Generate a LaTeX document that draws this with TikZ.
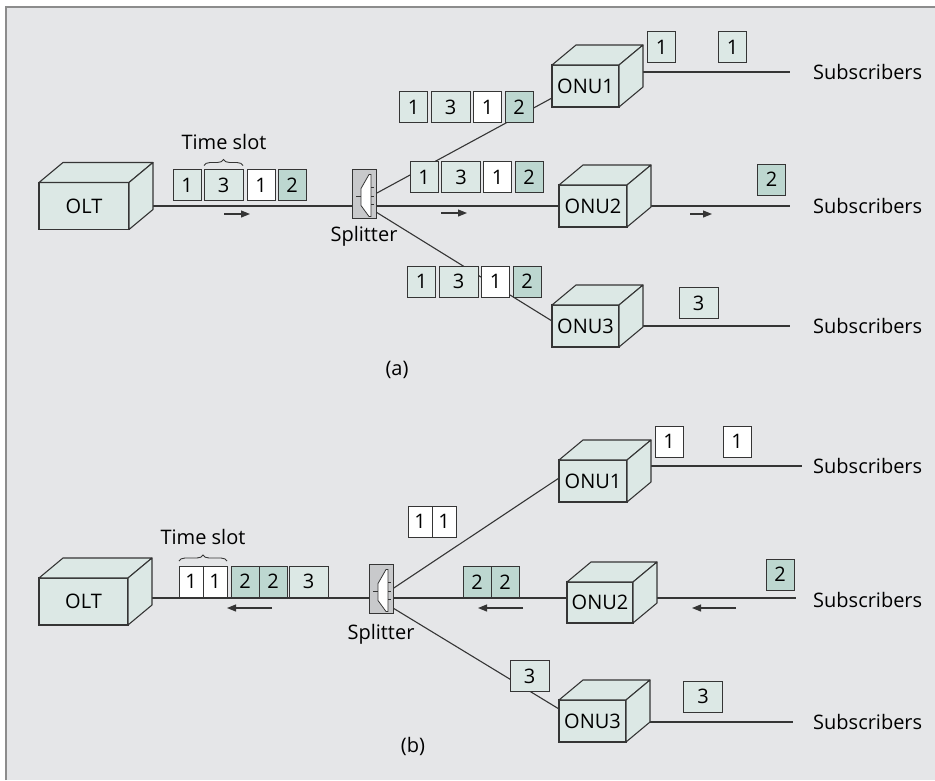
\documentclass[tikz,border=0pt]{standalone}
\usepackage{fontspec}
\setmainfont{Open Sans}
\usetikzlibrary{arrows.meta,decorations.pathreplacing,calc}
\pgfdeclarelayer{bg}
\pgfsetlayers{bg,main}

\definecolor{panel}{HTML}{E5E6E8}
\definecolor{framec}{HTML}{8C8C8C}
\definecolor{inkc}{HTML}{353535}
\definecolor{light}{HTML}{DCE8E5}
\definecolor{dark}{HTML}{BDD7D0}
\definecolor{splc}{HTML}{C8C9CB}

\newcommand\lbl{\fontsize{20}{24}\selectfont}

\tikzset{
  fibre/.style={draw=inkc, line width=1.1pt},
  flow/.style={draw=inkc, line width=1.1pt, -{Triangle[length=9pt,width=7pt]}},
  cubefront/.style={draw=inkc, line width=1.1pt, fill=light, inner sep=0pt, outer sep=0pt},
  cubeface/.style={draw=inkc, line width=1.1pt, fill=light, line join=round},
  pkt/.style={draw=inkc, line width=1pt, minimum width=28pt, minimum height=31pt, inner sep=0pt, outer sep=0pt},
  wide/.style={minimum width=39pt},
  pl/.style={pkt, fill=light},
  pw/.style={pkt, fill=white},
  pd/.style={pkt, fill=dark},
  splbox/.style={draw=inkc, fill=splc, line width=1pt, minimum width=24pt, minimum height=49pt, inner sep=0pt, outer sep=0pt},
  tslot/.style={draw=inkc, line width=0.9pt, decorate, decoration={brace, amplitude=6pt}},
  subs/.style={anchor=west, inner sep=0pt},
}

% a box drawn in oblique projection: front face node plus top and side faces
% #1 name, #2 centre of front face, #3 width, #4 height, #5 label
\newcommand\cubeat[5]{%
  \node[cubefront, minimum width=#3, minimum height=#4] (#1) at (#2) {#5};
  \filldraw[cubeface] (#1.north west) -- ++(24,-20) -- ($(#1.north east)+(24,-20)$) -- (#1.north east) -- cycle;
  \filldraw[cubeface] (#1.north east) -- ++(24,-20) -- ($(#1.south east)+(24,-20)$) -- (#1.south east) -- cycle;
}

% splitter symbol inside its grey housing
% #1 name, #2 centre
\newcommand\splitterat[2]{%
  \node[splbox] (#1) at (#2) {};
  \begin{scope}[shift={(#1.center)}]
    \filldraw[fill=white, draw=inkc, line width=0.8pt] (5,-19) -- (-3,-5) -- (-3,12) -- (5,23) -- (7,23) -- (7,-19) -- cycle;
    \draw[inkc, line width=0.8pt] (7,-6) -- (10,-6) (7,2.5) -- (10,2.5) (7,10.5) -- (10,10.5) (-8,2.5) -- (-3,2.5);
  \end{scope}
}

\begin{document}
\begin{tikzpicture}[x=1pt, y=-1pt, every node/.style={font=\lbl}]
\useasboundingbox (0,0) rectangle (935,780);

% ---------------- (a) downstream ----------------
\cubeat{olta}{84,206}{90pt}{47pt}{OLT}
\splitterat{spla}{364,193.5}
\cubeat{onu1a}{585.5,86}{67pt}{42pt}{ONU1}
\cubeat{onu2a}{593,206}{68pt}{42pt}{ONU2}
\cubeat{onu3a}{585.5,326}{67pt}{42pt}{ONU3}

\node[inner sep=0pt] (spltxta) at (364,236) {Splitter};

% frames leaving the OLT
\node[pl] (a11) at (187,185) {1};
\node[pl, wide] (a13) at (223.5,185) {3};
\node[pw] (a12) at (261,185) {1};
\node[pd] (a14) at (292,185) {2};
\path (a13.north west) ++(0,-4) coordinate (bra) (a13.north east) ++(0,-4) coordinate (brb);
\draw[tslot] (bra) -- (brb);
\node[inner sep=0pt] (tsa) at (224,142) {Time slot};

% copies on the three branches
\node[pl] (a21) at (413.5,107) {1};
\node[pl, wide] (a22) at (450.5,107) {3};
\node[pw] (a23) at (487.5,107) {1};
\node[pd] (a24) at (519,107) {2};

\node[pl] (a31) at (424,177) {1};
\node[pl, wide] (a32) at (461,177) {3};
\node[pw] (a33) at (497.5,177) {1};
\node[pd] (a34) at (529,177) {2};

\node[pl] (a41) at (421.5,281.5) {1};
\node[pl, wide] (a42) at (458.5,281.5) {3};
\node[pw] (a43) at (495.5,281.5) {1};
\node[pd] (a44) at (527,281.5) {2};

% frames delivered to subscribers
\node[pl] (a51) at (661.5,47) {1};
\node[pl] (a52) at (732.5,47) {1};
\node[pd] (a53) at (771.5,179.5) {2};
\node[pl, wide] (a54) at (698.5,303) {3};

\node[subs] (sub1a) at (813,72) {Subscribers};
\node[subs] (sub2a) at (813,206) {Subscribers};
\node[subs] (sub3a) at (813,326) {Subscribers};
\coordinate (s1a) at (790,72);
\coordinate (s2a) at (790,206);
\coordinate (s3a) at (790,326);

\coordinate (fa1) at (224,214);
\coordinate (fa2) at (250,214);
\coordinate (fa3) at (441,213);
\coordinate (fa4) at (467,213);
\coordinate (fa5) at (690,214);
\coordinate (fa6) at (712,214);
\draw[flow] (fa1) -- (fa2);
\draw[flow] (fa3) -- (fa4);
\draw[flow] (fa5) -- (fa6);

\node[inner sep=0pt] (capa) at (397,370) {(a)};

% ---------------- (b) upstream ----------------
\cubeat{oltb}{83.5,601.5}{89pt}{47pt}{OLT}
\splitterat{splb}{381,588.5}
\cubeat{onu1b}{593,481}{68pt}{42pt}{ONU1}
\cubeat{onu2b}{600,602.5}{66pt}{41pt}{ONU2}
\cubeat{onu3b}{592.5,721}{67pt}{42pt}{ONU3}

\node[inner sep=0pt] (spltxtb) at (381,634) {Splitter};

% merged frames arriving at the OLT
\node[pw, minimum width=24pt] (b11) at (191,581.5) {1};
\node[pw, minimum width=24pt] (b12) at (215,581.5) {1};
\node[pd] (b13) at (245,581.5) {2};
\node[pd] (b14) at (273,581.5) {2};
\node[pl, wide] (b15) at (308.5,581.5) {3};
\path (b11.north west) ++(0,-5) coordinate (brc) (b12.north east) ++(0,-5) coordinate (brd);
\draw[tslot] (brc) -- (brd);
\node[inner sep=0pt] (tsb) at (203,537) {Time slot};

% frames on the branches
\node[pw, minimum width=24pt] (b21) at (420,521.5) {1};
\node[pw, minimum width=24pt] (b22) at (444,521.5) {1};
\node[pd] (b31) at (477,582) {2};
\node[pd] (b32) at (505,582) {2};
\node[pl, wide] (b41) at (529.5,676) {3};

% frames sent by subscribers
\node[pw] (b51) at (669,441.5) {1};
\node[pw] (b52) at (737,441.5) {1};
\node[pd] (b53) at (780,574.5) {2};
\node[pl, wide] (b54) at (703,696.5) {3};

\node[subs] (sub1b) at (813,466) {Subscribers};
\node[subs] (sub2b) at (813,600) {Subscribers};
\node[subs] (sub3b) at (813,722) {Subscribers};
\coordinate (s1b) at (802,466);
\coordinate (s2b) at (796,598);
\coordinate (s3b) at (793,722);

\coordinate (fb1) at (272,608);
\coordinate (fb2) at (227,608);
\coordinate (fb3) at (523,608);
\coordinate (fb4) at (478,608);
\coordinate (fb5) at (736,608);
\coordinate (fb6) at (692,608);
\draw[flow] (fb1) -- (fb2);
\draw[flow] (fb3) -- (fb4);
\draw[flow] (fb5) -- (fb6);

\node[inner sep=0pt] (capb) at (413,746) {(b)};

% ---------------- panel and fibres underneath ----------------
\begin{pgfonlayer}{bg}
  \fill[panel] (6,7) rectangle (935,780);
  \draw[framec, line width=2pt] (6,780) -- (6,7) -- (935,7);

  \draw[fibre] (olta.center |- s2a) -- (s2a);
  \draw[fibre] (spla.east) -- ([yshift=-12pt]onu1a.west);
  \draw[fibre] ([yshift=6pt]spla.south east) -- ([yshift=5pt]onu3a.west);
  \draw[fibre] (onu1a.east |- s1a) -- (s1a);
  \draw[fibre] (onu3a.center |- s3a) -- (s3a);

  \draw[fibre] (oltb.center |- s2b) -- (s2b);
  \draw[fibre] (splb.east) -- ([yshift=3pt]onu1b.west);
  \draw[fibre] ([yshift=5pt]splb.south east) -- ([yshift=12pt]onu3b.west);
  \draw[fibre] (onu1b.east |- s1b) -- (s1b);
  \draw[fibre] (onu3b.center |- s3b) -- (s3b);
\end{pgfonlayer}
\end{tikzpicture}
\end{document}
